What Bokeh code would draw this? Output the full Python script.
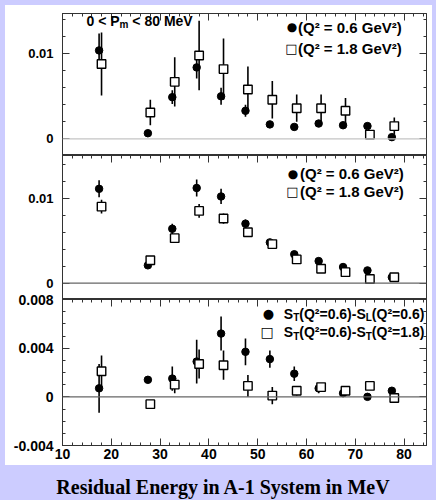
from bokeh.plotting import figure
from bokeh.models import (ColumnDataSource, Span, Label, LinearAxis, SingleIntervalTicker,
                          CustomJSTickFormatter, Range1d, Div)
from bokeh.layouts import column
from bokeh.embed import file_html
from bokeh.resources import INLINE

# ---------------- data ----------------
energy_circle = [17.5, 27.5, 32.5, 37.5, 42.5, 47.5, 52.5, 57.5, 62.5, 67.5, 72.5, 77.5]
energy_square = [18.0, 28.0, 33.0, 38.0, 43.0, 48.0, 53.0, 58.0, 63.0, 68.0, 73.0, 78.0]

# panel 1: 0 < Pm < 80 MeV
p1_q06 = [0.0104, 0.00066, 0.0049, 0.0084, 0.0050, 0.0033, 0.0017, 0.0014, 0.0018, 0.0016, 0.0015, 0.0002]
p1_q06_err = [0.0020, 0.0002, 0.0008, 0.0013, 0.0010, 0.0007, 0.0002, 0.0002, 0.0002, 0.0002, 0.0002, 0.0002]
p1_q18 = [0.0088, 0.0031, 0.0067, 0.0098, 0.0082, 0.0058, 0.0046, 0.0036, 0.0036, 0.0033, 0.0005, 0.0015]
p1_q18_err = [0.0037, 0.0015, 0.0029, 0.0041, 0.0036, 0.0027, 0.0022, 0.0016, 0.0016, 0.0015, 0.0005, 0.0010]

# panel 2
p2_q06 = [0.0111, 0.0021, 0.0064, 0.0112, 0.0102, 0.0070, 0.0048, 0.0034, 0.0026, 0.0019, 0.0015, 0.0007]
p2_q06_err = [0.0010, 0.0002, 0.0006, 0.0010, 0.0009, 0.0005, 0.0003, 0.0002, 0.0002, 0.0002, 0.0002, 0.0002]
p2_q18 = [0.0090, 0.0027, 0.0053, 0.0085, 0.0076, 0.0060, 0.0046, 0.0028, 0.0017, 0.0013, 0.0005, 0.0007]
p2_q18_err = [0.0008, 0.0003, 0.0004, 0.0008, 0.0006, 0.0004, 0.0003, 0.0002, 0.0002, 0.0002, 0.0002, 0.0002]

# panel 3: differences
p3_tl = [0.0007, 0.0014, 0.0015, 0.0029, 0.0052, 0.0037, 0.0031, 0.0019, 0.0007, 0.0003, 0.0000, 0.0005]
p3_tl_err = [0.0020, 0.0002, 0.0010, 0.0018, 0.0014, 0.0011, 0.0007, 0.0006, 0.0004, 0.0003, 0.0002, 0.0002]
p3_tt = [0.0021, -0.0006, 0.0010, 0.0027, 0.0026, 0.0009, 0.0001, 0.0005, 0.0008, 0.0005, 0.0009, -0.0001]
p3_tt_err = [0.0013, 0.0002, 0.0007, 0.0012, 0.0012, 0.0009, 0.0007, 0.0004, 0.0003, 0.0002, 0.0002, 0.0002]

x_title = "Residual Energy in A-1 System in MeV"

# ---------------- styling ----------------
LAV = "#ccccff"
AX = "#333333"
FONT = "Liberation Sans"
W = 427
FRAME_L, FRAME_R = 57, 6
ORIGIN_X = 5                      # page x of the white block
XMIN, XMAX = 10.0, 84.6
xr = Range1d(XMIN, XMAX)
FRAME_W = W - FRAME_L - FRAME_R
FRAME_X0 = ORIGIN_X + FRAME_L

fmt = CustomJSTickFormatter(code="return String(Math.round(tick*1e6)/1e6)")
blank = CustomJSTickFormatter(code="return ''")
xt = SingleIntervalTicker(interval=10, num_minor_ticks=5)

# Arial-Bold compatible advance widths (per 1000 em) for laying out composite labels
CW = {' ': 278, '(': 333, ')': 333, 'Q': 778, '\u00b2': 333, '=': 584, '0': 556, '1': 556,
      '6': 556, '8': 556, '.': 278, '-': 333, 'S': 667, 'T': 611, 'L': 611, 'G': 778,
      'e': 556, 'V': 667, 'P': 667, 'm': 889, '<': 584, 'M': 833}


def tw(s, size):
    return sum(CW.get(c, 556) for c in s) * size / 1000.0


def make_panel(height, ymin, ymax, mb_top, mb_bottom, interval, nminor, lab_size, xlabels,
               border_alpha=1.0):
    p = figure(width=W, height=height, x_range=xr, y_range=Range1d(ymin, ymax),
               output_backend="svg", toolbar_location=None,
               x_axis_location=None, y_axis_location=None,
               min_border_left=FRAME_L, min_border_right=FRAME_R,
               min_border_top=mb_top, min_border_bottom=mb_bottom,
               background_fill_color="white", border_fill_color="white",
               border_fill_alpha=border_alpha,
               outline_line_color=AX, outline_line_width=1)
    p.grid.visible = False
    yt = SingleIntervalTicker(interval=interval, num_minor_ticks=nminor)
    common = dict(axis_line_color=AX, major_tick_line_color=AX, minor_tick_line_color=AX,
                  major_tick_in=7, major_tick_out=0, minor_tick_in=3, minor_tick_out=0)
    left = LinearAxis(ticker=yt, formatter=fmt, major_label_standoff=9,
                      major_label_text_font=FONT, major_label_text_font_style="bold",
                      major_label_text_font_size=lab_size, major_label_text_color="black",
                      **common)
    p.add_layout(left, "left")
    right = LinearAxis(ticker=yt, formatter=blank, major_label_standoff=0,
                       major_label_text_font_size="1px", **common)
    p.add_layout(right, "right")
    above = LinearAxis(ticker=xt, formatter=blank, major_label_standoff=0,
                       major_label_text_font_size="1px", **common)
    p.add_layout(above, "above")
    if xlabels:
        below = LinearAxis(ticker=xt, major_label_standoff=3,
                           major_label_text_font=FONT, major_label_text_font_style="bold",
                           major_label_text_font_size="14px", major_label_text_color="black",
                           **common)
        p.add_layout(below, "below")
    return p


def add_series(p, xs, ys, errs, kind):
    lo = [y - e for y, e in zip(ys, errs)]
    hi = [y + e for y, e in zip(ys, errs)]
    src = ColumnDataSource(dict(x=xs, y=ys, lo=lo, hi=hi))
    p.segment(x0="x", y0="lo", x1="x", y1="hi", source=src, line_color="black", line_width=1.6)
    if kind == "circle":
        p.scatter(x="x", y="y", source=src, marker="circle", size=7.5,
                  fill_color="black", line_color="black")
    else:
        p.scatter(x="x", y="y", source=src, marker="square", size=8.5,
                  fill_color="white", line_color="black", line_width=1.4)


def make_mapper(top_abs, bottom_abs, ymin, ymax):
    pxu_x = FRAME_W / (XMAX - XMIN)

    def mx(xa):
        return XMIN + (xa - FRAME_X0) / pxu_x

    def my(ya):
        return ymin + (bottom_abs - ya) / (bottom_abs - top_abs) * (ymax - ymin)
    return mx, my


def place_pieces(p, mx, my, x_abs, y_abs, pieces):
    x = x_abs
    for text, size, dy in pieces:
        stripped = text.lstrip(" ")
        x += tw(text[:len(text) - len(stripped)], size)
        p.add_layout(Label(x=mx(x), y=my(y_abs + dy), text=stripped, text_font=FONT,
                           text_font_style="bold", text_font_size="%gpx" % size,
                           text_color="black", text_align="left", text_baseline="middle"))
        x += tw(stripped, size)


def symbol(p, mx, my, x_abs, y_abs, ch, size):
    p.add_layout(Label(x=mx(x_abs), y=my(y_abs), text=ch, text_font="DejaVu Sans",
                       text_font_size=size, text_color="black",
                       text_align="center", text_baseline="middle"))


# ---------------- panel 1 ----------------
Y1 = (-0.00196, 0.01474)
f1 = make_panel(150, Y1[0], Y1[1], 8, 0, 0.01, 5, "13px", False)
f1.add_layout(Span(location=0, dimension="width", line_color="#c4c4c4", line_width=1.2))
add_series(f1, energy_circle, p1_q06, p1_q06_err, "circle")
add_series(f1, energy_square, p1_q18, p1_q18_err, "square")
mx1, my1 = make_mapper(13, 155, *Y1)
place_pieces(f1, mx1, my1, 86, 20, [("0 < P", 14, 0), ("m", 10, 4), (" < 80 MeV", 14, 0)])
symbol(f1, mx1, my1, 291.5, 26.5, "\u25cf", "12px")
symbol(f1, mx1, my1, 291, 48, "\u25a1", "13px")
place_pieces(f1, mx1, my1, 297.5, 26.5, [("(Q\u00b2 = 0.6 GeV\u00b2)", 15, 0)])
place_pieces(f1, mx1, my1, 297.5, 47.5, [("(Q\u00b2 = 1.8 GeV\u00b2)", 15, 0)])

# ---------------- panel 2 ----------------
Y2 = (-0.00192, 0.01502)
f2 = make_panel(144, Y2[0], Y2[1], 0, 0, 0.01, 5, "13px", False)
f2.add_layout(Span(location=0, dimension="width", line_color="#666666", line_width=1.2))
add_series(f2, energy_circle, p2_q06, p2_q06_err, "circle")
add_series(f2, energy_square, p2_q18, p2_q18_err, "square")
mx2, my2 = make_mapper(155, 299, *Y2)
symbol(f2, mx2, my2, 292.5, 173.3, "\u25cf", "12px")
symbol(f2, mx2, my2, 292, 190.5, "\u25a1", "13px")
place_pieces(f2, mx2, my2, 299.5, 173, [("(Q\u00b2 = 0.6 GeV\u00b2)", 15, 0)])
place_pieces(f2, mx2, my2, 299.5, 190.5, [("(Q\u00b2 = 1.8 GeV\u00b2)", 15, 0)])

# ---------------- panel 3 ----------------
Y3 = (-0.004, 0.008)
f3 = make_panel(175, Y3[0], Y3[1], 9, 20, 0.004, 4, "14px", True, border_alpha=0.0)
f3.margin = (-9, 0, 0, 0)
f3.add_layout(Span(location=0, dimension="width", line_color="#666666", line_width=1.2))
add_series(f3, energy_circle, p3_tl, p3_tl_err, "circle")
add_series(f3, energy_square, p3_tt, p3_tt_err, "square")
mx3, my3 = make_mapper(299, 445, *Y3)
symbol(f3, mx3, my3, 267.8, 312.7, "\u25cf", "13px")
symbol(f3, mx3, my3, 266.7, 331.3, "\u25a1", "14px")
place_pieces(f3, mx3, my3, 283.3, 313, [("S", 14, 0), ("T", 10, 4), ("(Q\u00b2=0.6)-S", 14, 0),
                                        ("L", 10, 4), ("(Q\u00b2=0.6)", 14, 0)])
place_pieces(f3, mx3, my3, 283.3, 331.5, [("S", 14, 0), ("T", 10, 4), ("(Q\u00b2=0.6)-S", 14, 0),
                                          ("T", 10, 4), ("(Q\u00b2=1.8)", 14, 0)])

title = Div(text=x_title, width=436, height=34,
            styles={"font-family": "Liberation Serif", "font-weight": "bold",
                    "font-size": "20px", "text-align": "center", "color": "black",
                    "padding-top": "6px", "box-sizing": "border-box",
                    "line-height": "22px"})

panels = column(f1, f2, f3, spacing=0, margin=(5, 4, 0, 5),
                styles={"background-color": "white"})
layout = column(panels, title, spacing=0, styles={"background-color": LAV})

open("out.html", "w").write(file_html(layout, INLINE))
